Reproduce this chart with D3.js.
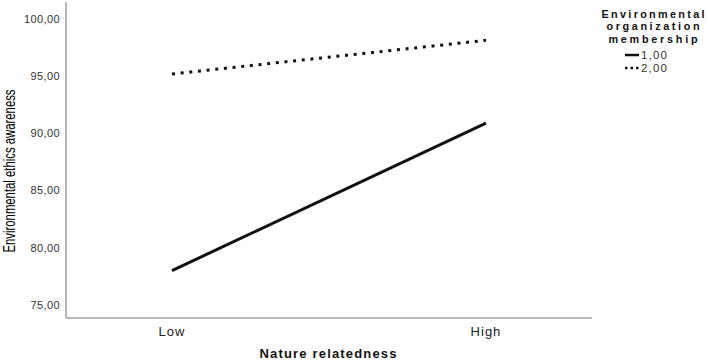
<!DOCTYPE html>
<html><head><meta charset="utf-8">
<script src="https://cdn.jsdelivr.net/npm/d3@7"></script>
<style>body{margin:0;background:#fff}svg{display:block}</style>
</head><body>
<script>
const categories = ["Low", "High"];
const series = ["1,00", "2,00"];
const values1 = [78.0, 90.9];
const values2 = [95.2, 98.15];
const yTicks = [75, 80, 85, 90, 95, 100];
const xTitle = "Nature relatedness";
const yTitle = "Environmental ethics awareness";
const legendTitle = ["Environmental", "organization", "membership"];
const legendTitleWidths = [103, 93, 89];

const W = 708, H = 361;
const svg = d3.select("body").append("svg").attr("width", W).attr("height", H);

const x = d3.scalePoint().domain(categories).range([66, 592]).padding(0.3376);
const y = d3.scaleLinear().domain([73.85, 101.5]).range([318, 2]);

const fmt = d => d.toFixed(2).replace(".", ",");
const SANS = "Liberation Sans, Arial, sans-serif";

// axes lines
svg.append("line").attr("x1", 66).attr("x2", 66).attr("y1", 2).attr("y2", 318)
  .attr("stroke", "#a0a0a0").attr("stroke-width", 1.5);
svg.append("line").attr("x1", 66).attr("x2", 592).attr("y1", 318).attr("y2", 318)
  .attr("stroke", "#a0a0a0").attr("stroke-width", 1.5);

// y ticks
svg.append("g").selectAll("text").data(yTicks).join("text")
  .attr("x", 60).attr("y", d => y(d)).attr("dy", "0.35em")
  .attr("text-anchor", "end").attr("font-family", SANS)
  .attr("font-size", 11).attr("letter-spacing", 0.4).attr("fill", "#333").text(fmt);

// x ticks
svg.append("g").selectAll("text").data(categories).join("text")
  .attr("x", d => x(d)).attr("y", 331).attr("dy", "0.35em")
  .attr("text-anchor", "middle").attr("font-family", SANS)
  .attr("font-size", 13).attr("letter-spacing", 1).attr("fill", "#222").text(d => d);

// titles
svg.append("text").attr("x", 328).attr("y", 358).attr("text-anchor", "middle")
  .attr("font-family", SANS).attr("font-weight", "bold")
  .attr("font-size", 13).attr("fill", "#111")
  .attr("textLength", 137).attr("lengthAdjust", "spacing").text(xTitle);
svg.append("text").attr("transform", "translate(15,171) rotate(-90)").attr("text-anchor", "middle")
  .attr("font-family", "Liberation Sans Narrow, Arial Narrow, sans-serif")
  .attr("font-size", 16).attr("fill", "#000")
  .attr("textLength", 163).attr("lengthAdjust", "spacingAndGlyphs").text(yTitle);

// lines
const line = d3.line().x((d, i) => x(categories[i])).y(d => y(d));
svg.append("path").datum(values1).attr("d", line).attr("fill", "none")
  .attr("stroke", "#111").attr("stroke-width", 3);
svg.append("path").datum(values2).attr("d", line).attr("fill", "none")
  .attr("stroke", "#111").attr("stroke-width", 3).attr("stroke-dasharray", "3,5.7");

// legend
const lg = svg.append("g");
lg.selectAll("text.t").data(legendTitle).join("text").attr("class", "t")
  .attr("x", 653).attr("y", (d, i) => 14 + i * 12.5).attr("dy", "0.35em")
  .attr("text-anchor", "middle").attr("font-family", SANS)
  .attr("font-weight", "bold").attr("font-size", 10.8).attr("fill", "#111")
  .attr("textLength", (d, i) => legendTitleWidths[i]).attr("lengthAdjust", "spacing")
  .text(d => d);
const items = lg.selectAll("g.item").data(series).join("g").attr("class", "item")
  .attr("transform", (d, i) => `translate(0,${55 + i * 13})`);
items.append("line").attr("x1", 625).attr("x2", 639).attr("y1", 0).attr("y2", 0)
  .attr("stroke", "#111").attr("stroke-width", 2.5)
  .attr("stroke-dasharray", (d, i) => i === 1 ? "2.5,3" : null);
items.append("text").attr("x", 641).attr("y", 0).attr("dy", "0.35em")
  .attr("font-family", SANS).attr("font-size", 11.5).attr("letter-spacing", 1.2)
  .attr("fill", "#333").text(d => d);
</script>
</body></html>
